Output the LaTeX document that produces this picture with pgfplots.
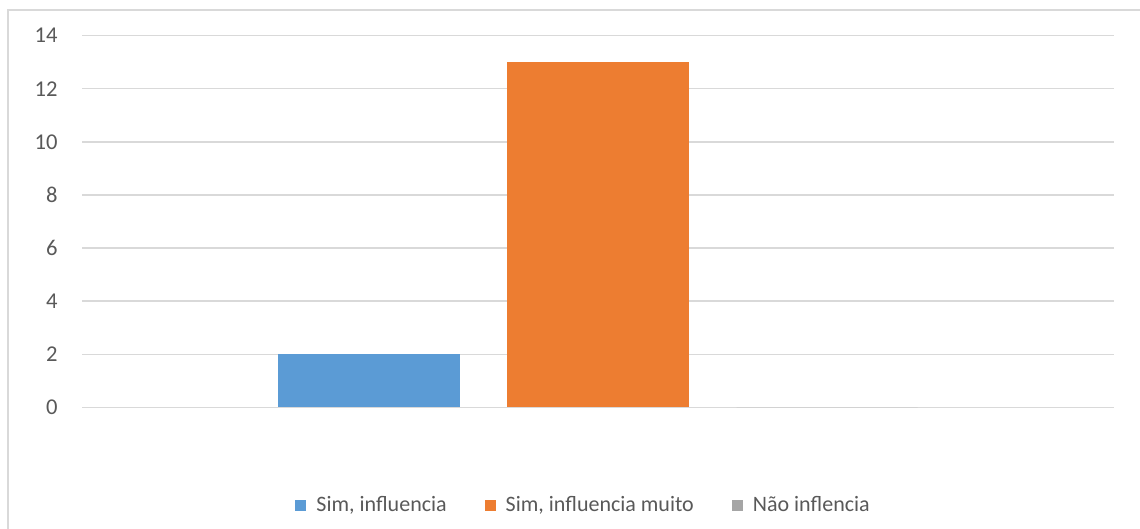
\documentclass[border=0pt]{standalone}
\usepackage{pgfplots}
\pgfplotsset{compat=1.18}
\usepackage{fontspec}
\setmainfont{Carlito}
\definecolor{txt}{HTML}{595959}
\definecolor{gridc}{HTML}{D9D9D9}
\definecolor{sblue}{HTML}{5B9BD5}
\definecolor{sorange}{HTML}{ED7D31}
\definecolor{sgray}{HTML}{A5A5A5}

\begin{document}
\begin{tikzpicture}
\useasboundingbox (0,0) rectangle (570pt,264.5pt);
% chart area frame
\draw[gridc, line width=0.75pt] (4pt,0) -- (4pt,259.5pt) -- (570pt,259.5pt);
\begin{axis}[
  at={(41pt,60.85pt)}, anchor=south west,
  scale only axis, width=516pt, height=185.8pt,
  xmin=-1, xmax=1, ymin=0, ymax=14,
  ytick={0,2,...,14},
  xtick=\empty,
  axis lines=left,
  axis line style={draw=none},
  ymajorgrids,
  grid style={gridc, line width=0.65pt},
  major tick length=0pt,
  yticklabel style={text=txt, font=\fontsize{11.3}{13}\selectfont, anchor=east, inner sep=0pt, xshift=-12pt},
  /pgf/number format/assume math mode=true,
  ybar, bar width=0.3508,
  legend columns=3,
  legend style={
    at={(0.487,-0.265)}, anchor=center, draw=none, fill=none,
    font=\fontsize{11}{13}\selectfont, text=txt,
    /tikz/every even column/.append style={column sep=17pt},
  },
]
\addplot[fill=sblue, draw=none, bar shift=-0.4438,
  legend image code/.code={\fill[sblue] (0pt,-2.75pt) rectangle (5.5pt,2.75pt); \path (8.5pt,0pt);}]
  coordinates {(0,2)};
\addlegendentry{Sim, influencia}
\addplot[fill=sorange, draw=none, bar shift=0,
  legend image code/.code={\fill[sorange] (0pt,-2.75pt) rectangle (5.5pt,2.75pt); \path (8.5pt,0pt);}]
  coordinates {(0,13)};
\addlegendentry{Sim, influencia muito}
\addplot[fill=sgray, draw=none, bar shift=0.4438,
  legend image code/.code={\fill[sgray] (0pt,-2.75pt) rectangle (5.5pt,2.75pt); \path (8.5pt,0pt);}]
  coordinates {(0,0)};
\addlegendentry{Não inflencia}
\end{axis}
\end{tikzpicture}
\end{document}
